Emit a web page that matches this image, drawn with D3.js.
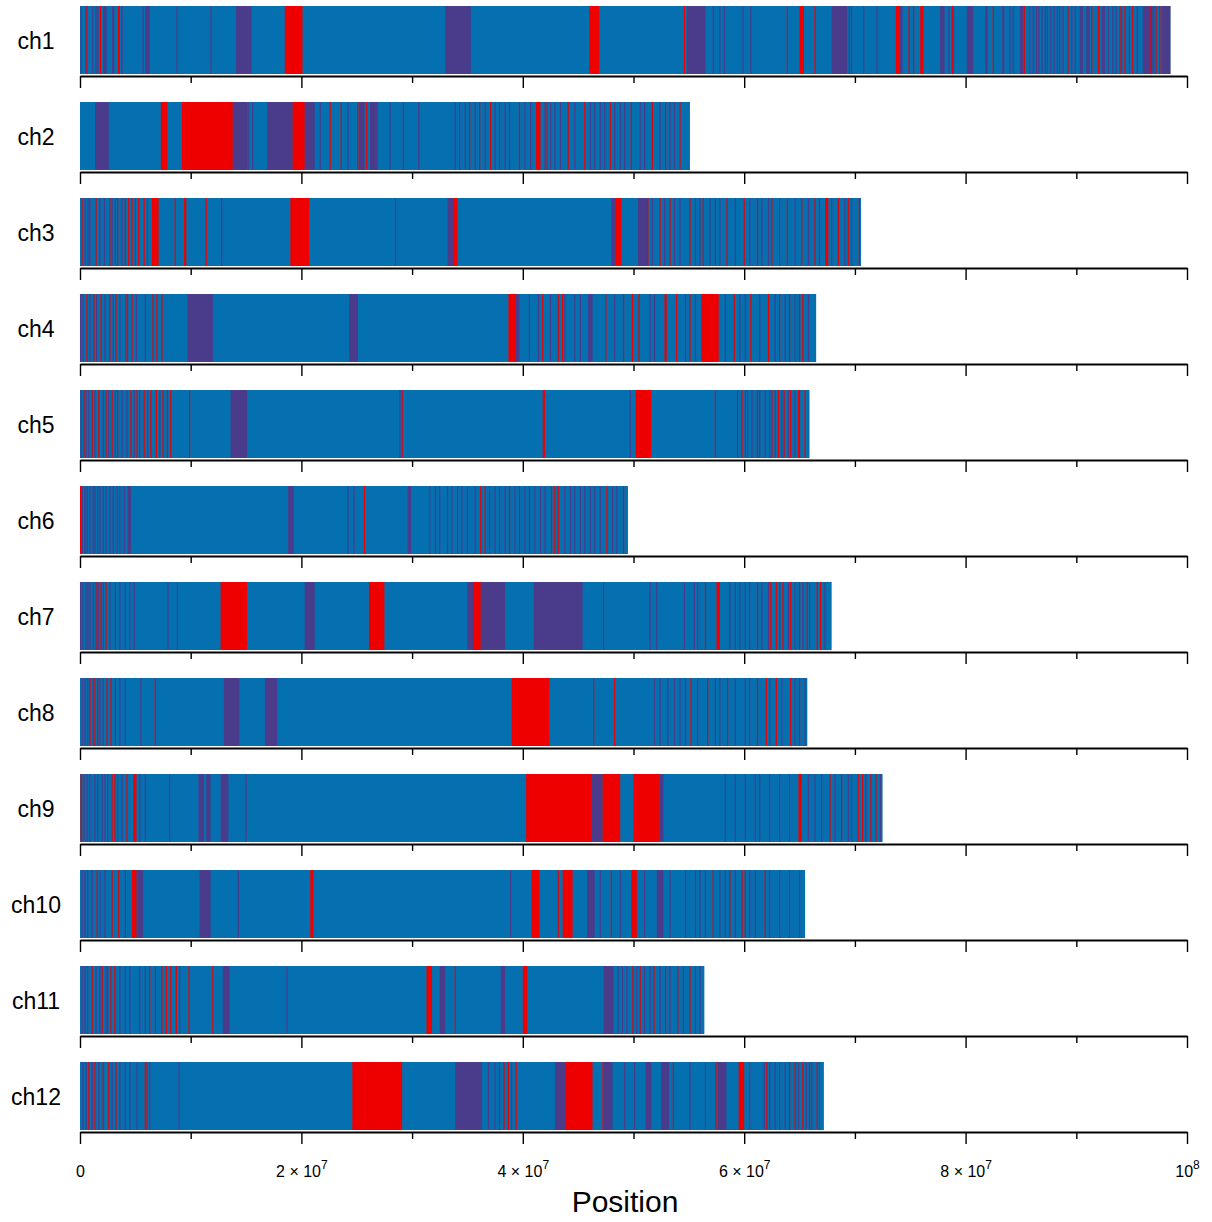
<!DOCTYPE html>
<html>
<head>
<meta charset="utf-8">
<script src="https://cdn.jsdelivr.net/npm/d3@7"></script>
<style>
  body { margin: 0; background: #fff; }
  text { font-family: "Liberation Sans", Arial, Helvetica, sans-serif; }
</style>
</head>
<body>
<div id="chart"></div>
<script>
// Chromosome names and lengths (Mb)
const chromosomes = ["ch1", "ch2", "ch3", "ch4", "ch5", "ch6", "ch7", "ch8", "ch9", "ch10", "ch11", "ch12"];
const lengthsMb = [98.5, 55.1, 70.55, 66.5, 65.9, 49.5, 67.9, 65.7, 72.5, 65.5, 56.4, 67.2];

// Red regions per chromosome (Mb): a number is a thin mark, a pair is a block
const redRegions = [
  [0.54, 1.85, [3.43, 3.6], [18.5, 20.1], [46.0, 46.9], 54.6, 63.9, [65.0, 65.4], 66.4, [73.7, 74.0], 74.9, 75.3,
   [75.9, 76.2], 78.8, 82.5, 85.3, 89.25, 91.4, [91.95, 92.1], 93.95, 94.4, 95.1, 96.75, 97.2, 97.55],
  [[7.3, 7.9], [9.2, 13.8], [19.2, 20.3], 22.6, 23.6, 25.1, 25.9, 35.2, 36.1, 37.1, 39.7, [41.2, 41.6], 42.2,
   44.1, 45.6, 47.9, 49.8, 51.7, 52.9, 54.2],
  [0.18, 1.45, 2.7, 3.4, 4.1, 4.4, 4.7, 5.3, 5.8, [6.5, 7.1], 8.6, [9.4, 9.6], 11.4, [19.0, 20.7], [33.7, 34.1],
   [48.4, 48.9], 51.3, 52.4, 53.3, 55.1, 56.3, [58.4, 58.5], 60.0, 61.2, 62.5, 63.9, 65.2, 66.4, [67.3, 67.6],
   68.5, 69.4, 70.4],
  [0.63, 1.26, 1.9, 2.7, 3.25, 4.15, 4.7, 6.6, 6.95, 7.4, [38.7, 39.3], 41.8, 43.2, 43.6, 47.5, 49.1, 49.9, 50.5,
   [52.8, 53.0], 53.9, 55.1, [56.1, 57.7], 59.1, 60.6, 62.2, 63.2, 64.1, 65.0, 65.3],
  [0.36, 1.1, 1.7, 2.35, 2.9, 3.4, 4.6, 5.15, 5.8, 6.4, 6.9, 7.5, 7.9, 8.2, 9.9, 29.1, [41.8, 42.0], [50.2, 51.6],
   57.4, 59.8, 61.2, 62.5, 63.1, 63.6, 64.2, 64.9, 65.5],
  [[0, 0.15], 25.7, 36.2, 36.6, 38.8, 42.6, 42.9, 43.2, 47.6, 49.1],
  [1.55, 1.9, 2.35, [12.7, 15.1], [26.1, 27.5], [35.5, 36.2], 56.5, [57.5, 57.8], 61.2, 62.4, 62.9, 63.5, 64.2,
   65.0, 65.7, 66.6, 66.9],
  [0.9, 1.35, 1.6, 2.45, 2.8, 6.8, [39.0, 42.4], 46.4, 48.3, 55.2, 56.7, 58.5, 61.2, 62.0, 62.9, 64.2, 65.0],
  [[0.05, 0.2], 2.9, 3.15, 4.25, [4.8, 5.1], [40.3, 46.2], [47.2, 48.8], [50.0, 52.3], [64.9, 65.2], 67.75, 68.8,
   70.3, 70.7, 71.45, 71.9],
  [1.55, 2.9, 3.5, [4.7, 5.1], [20.8, 21.1], [40.8, 41.5], 43.2, [43.6, 44.5], 48.0, [49.8, 50.3], 57.2, 58.7,
   59.8, 60.1, 61.9],
  [1.1, 2.0, 2.8, 3.15, 6.3, 7.4, 7.8, 8.2, 8.7, 9.85, 12.0, [31.3, 31.8], 33.9, [40.0, 40.4], 49.95, 50.6, 51.85,
   52.9, 54.0, 55.1],
  [0.8, 1.35, 2.1, 2.6, 3.25, 5.9, 6.05, [24.6, 29.1], 38.3, 38.7, 39.4, [43.9, 46.3], 47.25, 53.6, 57.45,
   [59.5, 60.0], 62.05, 64.1, 64.6, 65.3, 65.9, 66.6]
];

// Purple regions per chromosome (Mb)
const purpleRegions = [
  [0.1, 0.63, [1.1, 1.2], 1.45, 1.63, [2.1, 2.4], [2.9, 3.1], 3.8, 5.7, [5.9, 6.3], 8.76, 11.83, [14.1, 15.5],
   [33.0, 35.3], [54.8, 56.5], 57.2, 57.8, 58.2, 59.9, 60.6, [67.9, 69.3], 69.5, 69.7, 70.8, 72.0, [74.0, 74.3],
   [77.7, 78.1], 78.5, 78.9, [80.1, 80.7], [81.75, 82.0], [83.3, 83.5], 84.0, 84.3, [84.9, 85.2], 85.8, 86.1, 86.4,
   86.6, 86.9, 87.2, 87.4, 87.7, 88.0, 88.3, 88.5, 88.8, 89.6, 89.9, [90.3, 90.6], [90.9, 91.2], [92.3, 92.6], 92.9,
   93.3, 93.6, 94.1, 94.8, 95.5, [96.0, 96.9], 97.0, [97.7, 98.5]],
  [[1.36, 2.6], [13.8, 15.1], 15.2, 15.6, [16.9, 19.2], [20.3, 21.2], 21.7, 24.2, [25.2, 25.7], [26.2, 26.9], 28.0,
   29.2, 30.6, 33.9, 34.3, 34.8, 35.7, 36.6, 37.5, 37.9, 38.4, 38.8, 40.2, 40.7, 42.0, 42.5, 42.9, 43.4, 44.7, 46.1,
   46.5, 47.0, 47.4, 48.3, 48.8, 49.2, 50.6, 51.0, 52.4, 53.3, 53.7],
  [0.45, 0.72, 0.9, 1.8, 2.2, 2.9, 3.2, 3.8, 5.0, 6.1, 12.8, 28.5, [33.2, 33.7], [48.0, 48.4], [50.4, 51.3], 51.7,
   52.8, 53.7, 54.2, 55.6, 56.0, 56.9, 57.4, 57.8, 59.2, 60.5, 61.6, 62.2, 63.2, 64.6, 65.8, 66.8, 67.9, 69.1, 69.7],
  [0.05, 0.27, 0.9, 1.5, 2.25, 3.0, 3.6, 4.3, 5.1, 5.9, [9.7, 12.0], [24.3, 25.1], [39.3, 39.7], 40.6, 41.4, 42.5,
   43.8, 44.7, 45.2, [45.9, 46.3], 48.3, 51.5, 51.9, 54.7, 55.6, 56.9, 58.3, 59.6, 60.1, 61.4, 62.8, 63.7, 64.6, 65.8],
  [0.1, 0.55, 0.8, 1.35, 2.1, 2.6, 3.2, 3.8, 4.25, 4.9, 5.4, 6.1, 7.2, [13.6, 15.1], 28.9, 49.7, 59.4, 60.1, 60.3,
   60.7, 61.4, 61.9, 62.3, 62.8, 63.4, 64.0, 64.6, 65.0],
  [0.2, 0.45, 0.65, 0.9, 1.2, 1.35, 1.6, 1.8, 2.1, 2.35, 2.7, 3.0, 3.35, 3.6, 4.0, [4.3, 4.6], [18.8, 19.3], 24.2,
   24.75, [29.6, 29.9], 31.6, 32.1, 32.5, 33.2, 33.6, 34.1, 34.5, 35.0, 35.7, 37.0, 37.5, 37.9, 38.4, 39.3, 39.7,
   40.2, 40.6, 41.1, 41.6, 42.0, 43.8, 44.3, 44.7, 45.2, 45.6, 46.1, 46.5, 47.0, 48.1, 48.5],
  [0.05, 0.27, 0.55, 0.72, 0.9, 1.2, 1.45, 1.7, 2.1, 2.7, 3.2, 3.6, 4.1, 4.5, 4.9, 7.95, 8.8, [20.3, 21.2],
   [35.0, 35.5], [36.2, 38.4], [41.0, 45.4], 47.3, 51.5, 52.1, 54.6, 55.5, 55.8, 58.7, 59.2, 59.6, 60.1, 60.5, 61.6,
   62.2, 63.2, 64.0, 64.6, 65.3, 65.9, 67.3],
  [0.2, 0.45, 0.7, 1.2, 1.8, 2.1, 3.2, 3.6, 4.1, 5.5, [13.0, 14.4], [16.7, 17.8], 51.9, 52.4, 53.1, 53.7, 54.2,
   54.7, 55.8, 57.4, 57.8, 59.2, 60.1, 60.5, 62.3, 63.4, 64.6, 65.5],
  [0.36, 0.63, 0.9, 1.35, 1.6, 2.0, 2.25, 2.5, 3.4, 3.8, 5.4, 5.9, 8.1, [10.7, 11.2], [11.4, 11.8], [12.7, 13.4],
   15.0, [46.2, 47.2], [52.3, 52.7], 58.3, 59.2, 60.1, 61.0, 61.4, 62.3, 63.2, 64.1, 65.8, 66.4, 67.0, 68.2, 69.4,
   69.7, 71.0, 72.3],
  [0.2, 0.45, 0.7, 1.1, 1.8, 2.25, 4.1, [5.1, 5.7], [10.8, 11.8], 14.3, 38.9, [45.8, 46.5], 47.0, 48.8, 51.0,
   [52.1, 52.7], 53.3, 54.7, 55.6, 56.0, 56.5, 57.8, 58.3, 59.2, 60.5, 61.0, 62.3, 63.2, 64.1, 65.0],
  [0.2, 0.45, 0.7, 1.45, 1.8, 2.35, 2.5, 3.6, 4.1, 4.5, 5.4, 5.9, 6.8, 9.0, [12.9, 13.5], 18.7, [32.5, 33.0],
   [38.0, 38.4], [47.3, 48.2], 48.6, 49.0, 49.4, 50.3, 51.0, 51.5, 52.4, 53.3, 54.5, 55.6, 56.0],
  [0.27, 0.55, 1.1, 1.7, 2.9, 3.6, 4.1, 4.5, 5.15, 6.3, 8.95, [33.9, 36.3], 36.9, 37.5, 37.9, 39.0, [42.9, 43.9],
   [47.3, 48.1], 49.2, 50.1, [51.1, 51.6], [52.5, 53.2], 55.1, 56.5, [57.6, 58.4], 60.5, 61.8, 62.3, 62.8, 63.2,
   63.7, 64.9, 65.6, 66.1, 66.8]
];

// Axis ticks (bp)
const majorTicks = [0, 2e7, 4e7, 6e7, 8e7, 1e8];
const minorTicks = [1e7, 3e7, 5e7, 7e7, 9e7];
const tickLabels = [["0", ""], ["2 \u00d7 10", "7"], ["4 \u00d7 10", "7"], ["6 \u00d7 10", "7"], ["8 \u00d7 10", "7"], ["10", "8"]];

const colors = { base: "#0570b0", red: "#ee0000", purple: "#4a3b8b" };

let width = 1212, height = 1222;
let trackStep = 96, trackTop = 6, barHeight = 68;

let svg = d3.select("#chart")
    .append("svg")
    .attr("width", width)
    .attr("height", height);

let x = d3.scaleLinear().domain([0, 1e8]).range([80, 1187]);
const MB = 1e6;

// Turn a region (number or pair) into [x, width] in pixels
function regionPx(r) {
    if (Array.isArray(r)) {
        let x0 = x(r[0] * MB), x1 = x(r[1] * MB);
        return [x0, Math.max(x1 - x0, 1.2)];
    }
    return [x(r * MB) - 0.6, 1.2];
}

chromosomes.forEach(function(name, i) {
    let top = trackTop + i * trackStep;
    let g = svg.append("g").attr("class", "track");

    // Chromosome label
    g.append("text")
        .attr("x", 36)
        .attr("y", top + 43)
        .style("text-anchor", "middle")
        .style("font-size", "23px")
        .text(name);

    // Base bar
    g.append("rect")
        .attr("x", x(0))
        .attr("y", top)
        .attr("width", x(lengthsMb[i] * MB) - x(0))
        .attr("height", barHeight)
        .attr("fill", colors.base);

    // Purple then red regions
    [["purple", purpleRegions[i]], ["red", redRegions[i]]].forEach(function(pair) {
        g.append("g").selectAll("rect")
            .data(pair[1])
            .enter().append("rect")
            .attr("x", function(d) { return regionPx(d)[0]; })
            .attr("y", top)
            .attr("width", function(d) { return regionPx(d)[1]; })
            .attr("height", barHeight)
            .attr("fill", colors[pair[0]]);
    });

    // Axis with long major ticks and short minor ticks
    let axisY = top + barHeight + 2;
    let major = g.append("g")
        .attr("transform", `translate(0, ${axisY})`)
        .call(d3.axisBottom(x).tickValues(majorTicks).tickSize(12).tickSizeOuter(0).tickFormat(""));
    major.select(".domain").attr("stroke-width", 1.8);
    major.selectAll(".tick line").attr("stroke-width", 1.4);

    let minor = g.append("g")
        .attr("transform", `translate(0, ${axisY})`)
        .call(d3.axisBottom(x).tickValues(minorTicks).tickSize(7).tickSizeOuter(0).tickFormat(""));
    minor.select(".domain").remove();
    minor.selectAll(".tick line").attr("stroke-width", 1.4);

    // Tick labels only on the bottom track
    if (i === chromosomes.length - 1) {
        major.attr("font-size", 16);
        let labels = major.selectAll(".tick").append("text")
            .attr("fill", "#000")
            .attr("y", 45)
            .attr("font-size", 16)
            .style("text-anchor", "middle");
        labels.append("tspan")
            .attr("font-size", 16)
            .text(function(d, j) { return tickLabels[j][0]; });
        labels.append("tspan")
            .attr("dy", -8)
            .attr("font-size", 12)
            .text(function(d, j) { return tickLabels[j][1]; });
    }
});

// X axis title
svg.append("text")
    .attr("x", 625)
    .attr("y", 1212)
    .style("text-anchor", "middle")
    .style("font-size", "30px")
    .text("Position");
</script>
</body>
</html>
